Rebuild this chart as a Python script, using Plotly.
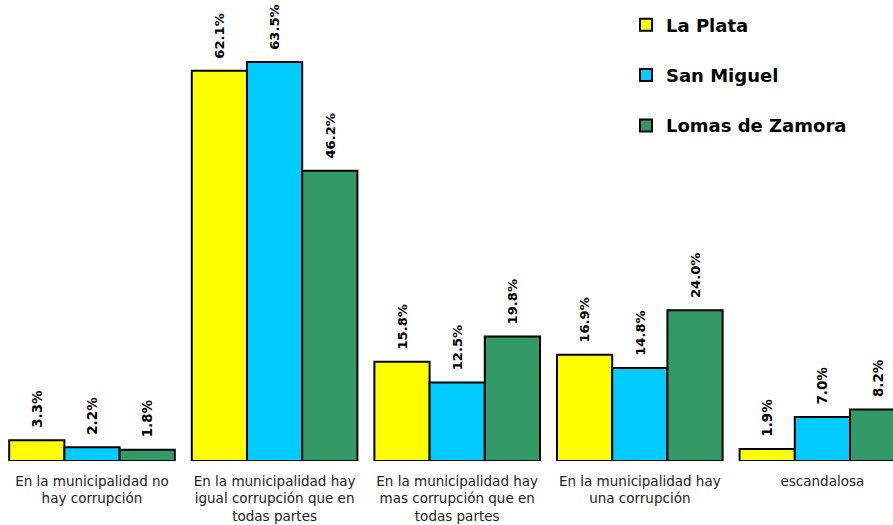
import plotly.graph_objects as go

categories = [
    "En la municipalidad no<br>hay corrupción",
    "En la municipalidad hay<br>igual corrupción que en<br>todas partes",
    "En la municipalidad hay<br>mas corrupción que en<br>todas partes",
    "En la municipalidad hay<br>una corrupción",
    "escandalosa",
]
la_plata = [3.3, 62.1, 15.8, 16.9, 1.9]
san_miguel = [2.2, 63.5, 12.5, 14.8, 7.0]
lomas = [1.8, 46.2, 19.8, 24.0, 8.2]

series = [
    ("La Plata", la_plata, "#FFFF00"),
    ("San Miguel", san_miguel, "#00CCFF"),
    ("Lomas de Zamora", lomas, "#339966"),
]

W, H = 893, 525
px_per_cat = 182.6
x0 = -92 / px_per_cat

fig = go.Figure()
for name, vals, color in series:
    fig.add_trace(go.Bar(
        name=name,
        x=list(range(len(categories))),
        y=vals,
        marker=dict(color=color, line=dict(color="black", width=2)),
        text=["\u00a0\u00a0%.1f%%" % v for v in vals],
        textposition="outside",
        textangle=-90,
        textfont=dict(family="DejaVu Sans", size=13.5, color="black", weight="bold"),
        cliponaxis=True,
        legendgroup=name,
    ))

fig.update_layout(
    width=W, height=H,
    margin=dict(l=0, r=0, t=0, b=64),
    barmode="group",
    bargap=0.093,
    bargroupgap=0,
    plot_bgcolor="white",
    paper_bgcolor="white",
    font=dict(family="DejaVu Sans"),
    legend=dict(
        x=0.701, y=0.986, xanchor="left", yanchor="top",
        traceorder="grouped", tracegroupgap=24,
        font=dict(family="DejaVu Sans", size=18, color="black", weight="bold"),
        itemwidth=30,
        bgcolor="rgba(0,0,0,0)",
    ),
    xaxis=dict(
        tickmode="array",
        tickvals=list(range(len(categories))),
        ticktext=categories,
        range=[x0, x0 + W / px_per_cat],
        showline=False, showgrid=False, zeroline=False, ticks="",
        tickfont=dict(family="DejaVu Sans", size=13.5, color="#222222"),
        tickangle=0,
        ticklabelstandoff=10,
    ),
    yaxis=dict(
        range=[0, 461 / 6.283],
        visible=False, showgrid=False, zeroline=False,
    ),
)

fig.write_html(
    "out.html",
    config={"displayModeBar": False},
    post_script="document.body.style.margin='0';document.body.style.overflow='hidden';",
)
